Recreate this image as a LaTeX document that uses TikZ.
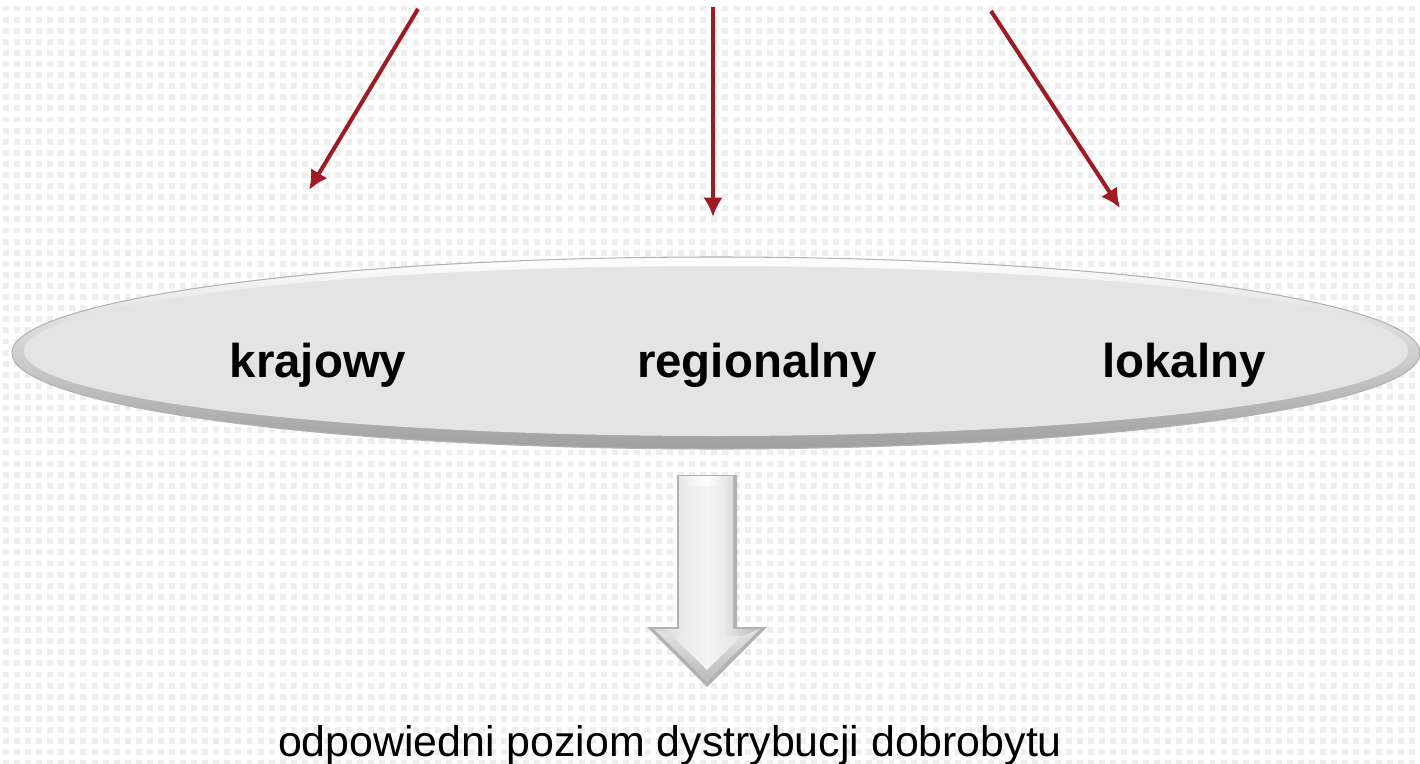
\documentclass[tikz,border=0pt]{standalone}
\usepackage{fontspec}
\setmainfont{Liberation Sans}
\usepackage{tikz}
\usetikzlibrary{arrows.meta,positioning}
\definecolor{arrowred}{RGB}{158,27,36}
\definecolor{ovalfill}{RGB}{228,228,228}
\definecolor{dotgray}{RGB}{238,238,238}

\tikzset{
  redarrow/.style={-{Latex[length=11pt,width=11pt]},line width=2.3pt,arrowred},
  tier/.style={font=\bfseries\fontsize{27}{32}\selectfont,inner sep=0pt,anchor=base},
  result/.style={font=\fontsize{24.4}{29}\selectfont,inner sep=0pt,anchor=base}
}

\begin{document}
\begin{tikzpicture}[x={(0.02cm,0)},y={(0,-0.02cm)}]
            \useasboundingbox (0,0) rectangle (1420,764);
            \fill[white] (0,0) rectangle (1420,764);
            % background dots
            \foreach \r in {0,...,68}{
              \draw[dotgray,line width=3.4pt,dash pattern=on 3.4pt off 2.9pt] (3,{8.5+11.1*\r}) -- (1420,{8.5+11.1*\r});
            }
            % oval
            \shade[top color=white,bottom color=gray!75,draw=gray!60,line width=0.6pt] (716,353) ellipse [x radius=704,y radius=96];
            \fill[ovalfill] (716,351) ellipse [x radius=692,y radius=85];
            \node[tier] (krajowy) at (318,377) {krajowy};
            \node[tier] (regionalny) at (757,377) {regionalny};
            \node[tier] (lokalny) at (1184,377) {lokalny};
            % red arrows
            \coordinate (s1) at (418,9);
            \coordinate (t1) at (309,190);
            \coordinate (s2) at (713,7);
            \coordinate (t2) at (713,217);
            \coordinate (s3) at (991,11);
            \coordinate (t3) at (1120,208);
            \draw[redarrow] (s1) -- (t1);
            \draw[redarrow] (s2) -- (t2);
            \draw[redarrow] (s3) -- (t3);
            % block arrow
            \fill[gray!60] (677,475) -- (737,475) -- (737,627) -- (767,627) -- (707,687) -- (647,627) -- (677,627) -- cycle;
            \shade[left color=gray!35,right color=gray!55,middle color=white] (679,476) -- (733,476) -- (733,629) -- (760,629) -- (707,681) -- (654,629) -- (679,629) -- cycle;
            \shade[left color=gray!20,right color=gray!22,middle color=gray!8] (688,486) -- (726,486) -- (726,636) -- (742,636) -- (707,670) -- (672,636) -- (688,636) -- cycle;
            \shade[top color=gray!20,bottom color=gray!55] (672,636) -- (707,670) -- (742,636) -- (760,629) -- (707,681) -- (654,629) -- cycle;
            \node[result] (dobrobyt) at (670,756) {odpowiedni poziom dystrybucji dobrobytu};
        \end{tikzpicture}
\end{document}
